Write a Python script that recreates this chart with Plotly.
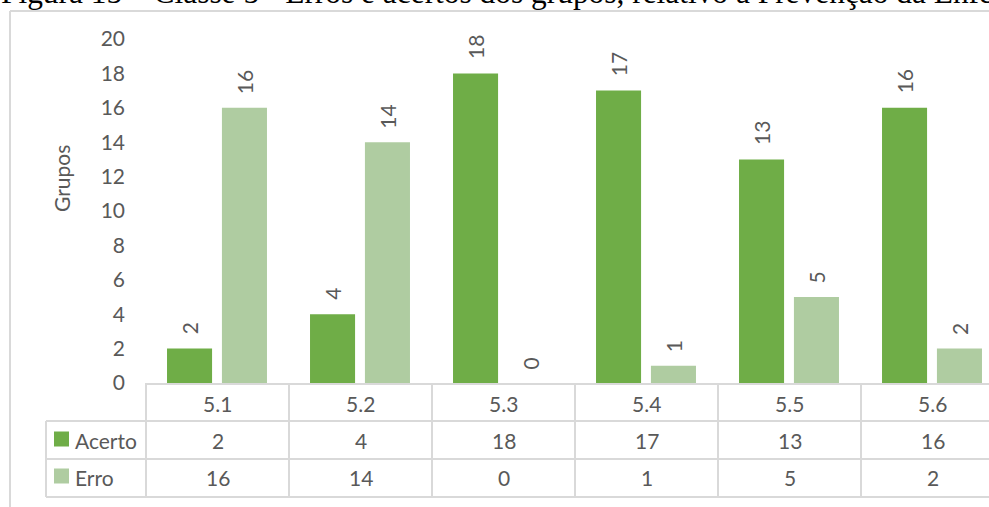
import plotly.graph_objects as go

categories = ["5.1", "5.2", "5.3", "5.4", "5.5", "5.6"]
acerto = [2, 4, 18, 17, 13, 16]
erro = [16, 14, 0, 1, 5, 2]
series_names = ["Acerto", "Erro"]
y_ticks = list(range(0, 21, 2))
title_text = "Figura 15 – Classe 5 - Erros e acertos dos grupos, relativo à Prevenção da Enfermagem"

W, H = 989, 507
L, R, T, B = 146, 989, 39, 383
PW, PH = R - L, B - T
XMIN, XMAX = -0.5, -0.5 + PW / 143.0

def px(xp):
    return (xp - L) / PW

def py(yp):
    return (B - yp) / PH

def xdata_to_paper(v):
    return (v - XMIN) / (XMAX - XMIN)

FONT = "Lato"
TXT = "#595959"
LINE = "#d9d9d9"
C_ACERTO = "#6fad47"
C_ERRO = "#afcca1"
FS = 21

xs = list(range(len(categories)))
fig = go.Figure()
fig.add_trace(go.Bar(x=xs, y=acerto, name=series_names[0], marker=dict(color=C_ACERTO, line=dict(width=0)),
                     width=0.315, offset=-0.353, showlegend=False))
fig.add_trace(go.Bar(x=xs, y=erro, name=series_names[1], marker=dict(color=C_ERRO, line=dict(width=0)),
                     width=0.315, offset=0.031, showlegend=False))

annotations = []
# data labels
for i, v in enumerate(acerto):
    annotations.append(dict(x=i - 0.353 + 0.1575, y=v, xref="x", yref="y", text=str(v),
                            textangle=-90, showarrow=False, xanchor="center", yanchor="bottom", yshift=12,
                            font=dict(family=FONT, size=FS, color=TXT)))
for i, v in enumerate(erro):
    annotations.append(dict(x=i + 0.031 + 0.1575, y=v, xref="x", yref="y", text=str(v),
                            textangle=-90, showarrow=False, xanchor="center", yanchor="bottom", yshift=12,
                            font=dict(family=FONT, size=FS, color=TXT)))

# table text
row_y = [404, 440, 477]
def cell(xv, yv, text, xref="x", xanchor="center"):
    annotations.append(dict(x=xv, y=py(yv), xref=xref, yref="paper", text=text, showarrow=False,
                            xanchor=xanchor, yanchor="middle",
                            font=dict(family=FONT, size=FS, color=TXT)))
for i, c in enumerate(categories):
    cell(i, row_y[0], c)
    cell(i, row_y[1], str(acerto[i]))
    cell(i, row_y[2], str(erro[i]))
for name, yy in zip(series_names, row_y[1:]):
    cell(px(73), yy, name, xref="paper", xanchor="left")

# axis title
annotations.append(dict(x=px(62), y=py(179), xref="paper", yref="paper", text="Grupos", textangle=-90,
                        showarrow=False, xanchor="center", yanchor="middle",
                        font=dict(family=FONT, size=FS, color=TXT)))
# figure caption (clipped at top as in source)
annotations.append(dict(x=px(-1), y=py(-7), xref="paper", yref="paper", text=title_text,
                        showarrow=False, xanchor="left", yanchor="middle",
                        font=dict(family="Liberation Serif", size=31.4, color="#000000")))

shapes = []
def line(x0, y0, x1, y1, color=LINE, w=2):
    shapes.append(dict(type="line", xref="paper", yref="paper", x0=px(x0), y0=py(y0), x1=px(x1), y1=py(y1),
                       line=dict(color=color, width=w), layer="above"))

# outer frame
line(10, 11, 989, 11)
line(10, 11, 10, 507)
# table grid
line(145, 384, 989, 384)
for yy in [421, 459, 497]:
    line(46, yy, 989, yy)
line(46, 421, 46, 497)
for k in range(len(categories)):
    xb = L + xdata_to_paper(k - 0.5) * PW
    line(xb, 384, xb, 497)
# legend keys
for col, yc in [(C_ACERTO, 439), (C_ERRO, 476)]:
    shapes.append(dict(type="rect", xref="paper", yref="paper", x0=px(54), x1=px(69), y0=py(yc - 7.5),
                       y1=py(yc + 7.5), fillcolor=col, line=dict(width=0), layer="above"))

fig.update_layout(
    width=W, height=H,
    margin=dict(l=L, r=W - R, t=T, b=H - B, pad=0),
    paper_bgcolor="white", plot_bgcolor="white",
    barmode="overlay",
    xaxis=dict(range=[XMIN, XMAX], showticklabels=False, showgrid=False, zeroline=False,
               showline=False, ticks=""),
    yaxis=dict(range=[0, 20], tickvals=y_ticks, showgrid=False, zeroline=False, showline=False,
               ticks="", ticklabelstandoff=20,
               tickfont=dict(family=FONT, size=FS, color=TXT)),
    annotations=annotations, shapes=shapes, showlegend=False,
)
fig.write_html("out.html")
